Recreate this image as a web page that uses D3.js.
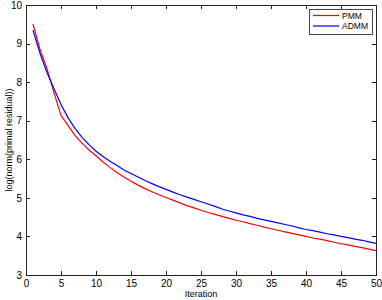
<!DOCTYPE html>
<html>
<head>
<meta charset="utf-8">
<script src="https://cdn.jsdelivr.net/npm/d3@7"></script>
<style>
  body { margin: 0; background: #fff; }
  svg { display: block; font-family: "Liberation Sans", Arial, sans-serif; }
</style>
</head>
<body>
<div id="chart"></div>
<script>
// data
const iterations = d3.range(1, 51);
const pmm = [9.51, 8.85, 8.35, 7.72, 7.14, 6.88, 6.62, 6.42, 6.24, 6.09,
             5.93, 5.79, 5.66, 5.54, 5.43, 5.33, 5.24, 5.16, 5.08, 5.01,
             4.94, 4.87, 4.80, 4.74, 4.68, 4.62, 4.57, 4.52, 4.47, 4.42,
             4.38, 4.33, 4.29, 4.24, 4.20, 4.16, 4.12, 4.08, 4.04, 4.00,
             3.96, 3.93, 3.89, 3.85, 3.81, 3.78, 3.74, 3.71, 3.67, 3.63];
const admm = [9.35, 8.75, 8.25, 7.83, 7.42, 7.08, 6.80, 6.57, 6.38, 6.21,
              6.07, 5.95, 5.84, 5.72, 5.63, 5.54, 5.45, 5.37, 5.29, 5.22,
              5.15, 5.08, 5.02, 4.96, 4.90, 4.84, 4.78, 4.71, 4.66, 4.61,
              4.56, 4.52, 4.47, 4.43, 4.39, 4.35, 4.31, 4.27, 4.22, 4.18,
              4.15, 4.11, 4.07, 4.04, 4.00, 3.97, 3.93, 3.90, 3.86, 3.82];
const xTicks = [0, 5, 10, 15, 20, 25, 30, 35, 40, 45, 50];
const yTicks = [3, 4, 5, 6, 7, 8, 9, 10];
const seriesNames = ["PMM", "ADMM"];
const seriesColors = ["#ff0000", "#0000ff"];

const width = 382, height = 300;
const margin = {top: 5, right: 6, bottom: 25, left: 26};
const innerWidth = width - margin.left - margin.right;
const innerHeight = height - margin.top - margin.bottom;

const xScale = d3.scaleLinear().domain([0, 50]).range([0, innerWidth]);
const yScale = d3.scaleLinear().domain([3, 10]).range([innerHeight, 0]);

const svg = d3.select("#chart").append("svg")
    .attr("width", width).attr("height", height);

const group = svg.append("g")
    .attr("transform", `translate(${margin.left},${margin.top})`);

// axes with inward ticks, MATLAB style
const fmt = d3.format("d");
const bottomAxis = group.append("g")
    .attr("transform", `translate(0,${innerHeight})`)
    .call(d3.axisBottom(xScale).tickValues(xTicks).tickFormat(fmt).tickSizeInner(-4).tickSizeOuter(0).tickPadding(5));
const topAxis = group.append("g")
    .call(d3.axisTop(xScale).tickValues(xTicks).tickFormat("").tickSizeInner(-4).tickSizeOuter(0));
const leftAxis = group.append("g")
    .call(d3.axisLeft(yScale).tickValues(yTicks).tickFormat(fmt).tickSizeInner(-4).tickSizeOuter(0).tickPadding(4));
const rightAxis = group.append("g")
    .attr("transform", `translate(${innerWidth},0)`)
    .call(d3.axisRight(yScale).tickValues(yTicks).tickFormat("").tickSizeInner(-4).tickSizeOuter(0));

// box sides carry no labels
topAxis.selectAll("text").remove();
rightAxis.selectAll("text").remove();

[bottomAxis, topAxis, leftAxis, rightAxis].forEach(a => {
  a.selectAll("path, line").attr("stroke", "#222").attr("shape-rendering", "crispEdges");
  a.selectAll("text").attr("font-size", 10).attr("fill", "#000")
    .attr("font-family", "Liberation Sans, Arial, sans-serif");
});

// lines
const line = d3.line().x((d, i) => xScale(iterations[i])).y(d => yScale(d));
[pmm, admm].forEach((s, k) => {
  group.append("path")
      .datum(s)
      .attr("fill", "none")
      .attr("stroke", seriesColors[k])
      .attr("stroke-width", 1.2)
      .attr("d", line);
});

// axis labels
svg.append("text")
    .text("Iteration")
    .attr("x", margin.left + innerWidth / 2)
    .attr("y", 297)
    .attr("text-anchor", "middle")
    .attr("font-size", 9);

svg.append("text")
    .text("log(norm(primal residual))")
    .attr("transform", `translate(12,${margin.top + innerHeight / 2}) rotate(-90)`)
    .attr("text-anchor", "middle")
    .attr("font-size", 9);

// legend
const legend = svg.append("g").attr("transform", "translate(309,9)");
legend.append("rect")
    .attr("width", 63).attr("height", 25)
    .attr("fill", "#fff").attr("stroke", "#444")
    .attr("shape-rendering", "crispEdges");
seriesNames.forEach((name, i) => {
  const y = 6.5 + i * 10.5;
  legend.append("line")
      .attr("x1", 4).attr("x2", 30).attr("y1", y).attr("y2", y)
      .attr("stroke", seriesColors[i]).attr("stroke-width", 1.2);
  legend.append("text")
      .text(name)
      .attr("x", 33).attr("y", y + 3)
      .attr("font-size", 8.5);
});
</script>
</body>
</html>
